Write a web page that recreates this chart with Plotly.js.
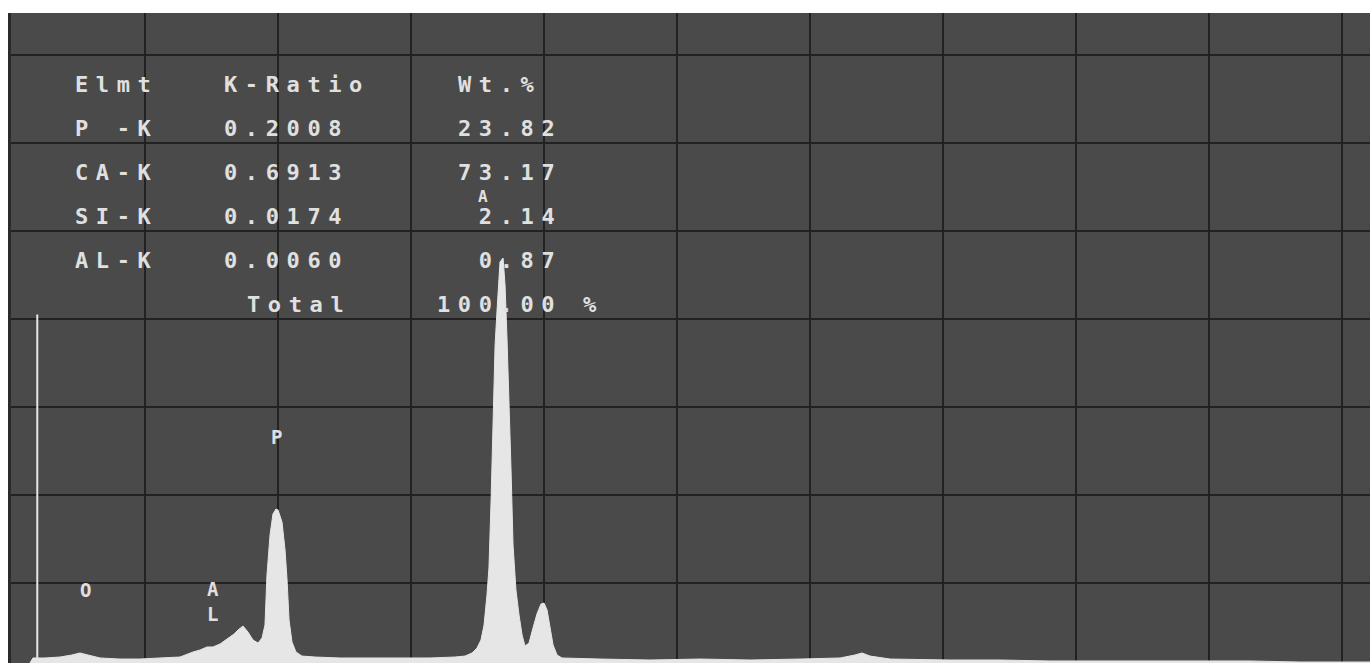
<!DOCTYPE html>
<html>
<head>
<meta charset="utf-8">
<script src="https://cdn.plot.ly/plotly-3.0.1.min.js"></script>
<style>
  html, body { margin: 0; padding: 0; background: #ffffff; }
  #chart { width: 1370px; height: 663px; }
  .annotation-text { letter-spacing: 7.6px; }
</style>
</head>
<body>
<div id="chart"></div>
<script>
// ---- EDS spectrum (energy in keV, intensity in screen divisions) ----
const energy = [0.135, 0.158, 0.248, 0.361, 0.451, 0.511, 0.571, 0.662, 0.812, 0.962,
  1.113, 1.263, 1.361, 1.414, 1.466, 1.511, 1.564, 1.624, 1.669, 1.699,
  1.737, 1.774, 1.812, 1.850, 1.880, 1.902, 1.917, 1.940, 1.962, 1.985,
  2.000, 2.030, 2.053, 2.068, 2.083, 2.105, 2.135, 2.180, 2.278, 2.466,
  2.692, 2.917, 3.143, 3.331, 3.406, 3.459, 3.496, 3.526, 3.549, 3.571,
  3.586, 3.602, 3.617, 3.632, 3.647, 3.669, 3.692, 3.707, 3.722, 3.737,
  3.752, 3.767, 3.789, 3.812, 3.835, 3.857, 3.887, 3.917, 3.947, 3.977,
  4.000, 4.023, 4.045, 4.068, 4.098, 4.135, 4.421, 4.797, 5.173, 5.549,
  5.925, 6.226, 6.338, 6.391, 6.451, 6.602, 7.053, 7.429, 7.805, 8.180,
  8.556, 8.932, 9.308, 9.684, 10.211];
const counts = [0.091, 0.148, 0.148, 0.159, 0.182, 0.205, 0.182, 0.148, 0.136, 0.136,
  0.148, 0.159, 0.216, 0.239, 0.273, 0.273, 0.307, 0.375, 0.420, 0.466,
  0.511, 0.443, 0.352, 0.318, 0.375, 0.523, 1.091, 1.545, 1.784, 1.841,
  1.830, 1.693, 1.375, 1.034, 0.580, 0.330, 0.216, 0.170, 0.159, 0.148,
  0.148, 0.148, 0.148, 0.159, 0.170, 0.205, 0.261, 0.352, 0.523, 0.864,
  1.170, 1.943, 2.852, 3.705, 4.102, 4.648, 4.693, 4.386, 3.761, 3.080,
  2.284, 1.432, 0.920, 0.636, 0.409, 0.284, 0.318, 0.489, 0.648, 0.761,
  0.773, 0.693, 0.489, 0.295, 0.182, 0.148, 0.136, 0.125, 0.136, 0.125,
  0.136, 0.148, 0.182, 0.205, 0.170, 0.136, 0.125, 0.125, 0.114, 0.114,
  0.114, 0.114, 0.114, 0.102, 0.102];

// cursor marker
const cursorEnergy = 0.19;
const cursorHeight = 4.05;

// ---- quantification table ----
const tableHeader = ['Elmt', 'K-Ratio', 'Wt.%'];
const elements = ['P -K', 'CA-K', 'SI-K', 'AL-K'];
const kRatios = ['0.2008', '0.6913', '0.0174', '0.0060'];
const wtPct = ['23.82', '73.17', '2.14', '0.87'];
const totalLabel = 'Total';
const totalValue = '100.00 %';

// ---- peak labels ----
const peakLabels = ['O', 'A<br>L', 'P', 'A'];
const peakLabelE = [0.549, 1.511, 1.992, 3.541];
const peakLabelY = [0.92, 0.79, 2.66, 5.39];
const peakLabelSize = [19, 19, 19, 16];

// ---- layout helpers ----
const fontFamily = 'DejaVu Sans Mono, Liberation Mono, monospace';
const txtFont = { family: fontFamily, size: 22, color: '#e0e0e0', weight: 'bold' };
const colX = [0.459, 1.579, 3.338];
const rowY = [6.67, 6.17, 5.67, 5.17, 4.67, 4.17];

function cell(x, y, text) {
  return { x: x, y: y, xref: 'x', yref: 'y', text: text, showarrow: false,
           xanchor: 'left', yanchor: 'middle', font: txtFont };
}

const annotations = [];
tableHeader.forEach((h, i) => annotations.push(cell(colX[i], rowY[0], h)));
elements.forEach((el, i) => {
  annotations.push(cell(colX[0], rowY[i + 1], el));
  annotations.push(cell(colX[1], rowY[i + 1], kRatios[i]));
  const w = wtPct[i].length < 5 ? '\u00a0' + wtPct[i] : wtPct[i];
  annotations.push(cell(colX[2], rowY[i + 1], w));
});
annotations.push(cell(1.752, rowY[5], totalLabel));
annotations.push(cell(3.180, rowY[5], totalValue));
peakLabels.forEach((p, i) => {
  annotations.push({ x: peakLabelE[i], y: peakLabelY[i], xref: 'x', yref: 'y', text: p,
    showarrow: false, xanchor: 'center', yanchor: 'middle', xshift: 4,
    font: { family: fontFamily, size: peakLabelSize[i], color: '#e0e0e0', weight: 'bold' } });
});

const traces = [
  { x: energy, y: counts, type: 'scatter', mode: 'lines', fill: 'tozeroy',
    fillcolor: '#e6e6e6', line: { color: '#e6e6e6', width: 1 }, hoverinfo: 'skip' },
  { x: [cursorEnergy, cursorEnergy], y: [0, cursorHeight], type: 'scatter', mode: 'lines',
    line: { color: '#e6e6e6', width: 2 }, hoverinfo: 'skip' }
];

const layout = {
  width: 1370, height: 663,
  margin: { l: 11, r: 0, t: 13, b: 0, pad: 0 },
  paper_bgcolor: '#ffffff',
  plot_bgcolor: '#4a4a4a',
  showlegend: false,
  xaxis: { range: [-0.0075, 10.21], tick0: 0, dtick: 1, showgrid: true,
           gridcolor: '#222222', gridwidth: 2, zeroline: false,
           showticklabels: false, ticks: '', showline: false },
  yaxis: { range: [0.091, 7.477], tick0: 0, dtick: 1, showgrid: true,
           gridcolor: '#222222', gridwidth: 2, zeroline: false,
           showticklabels: false, ticks: '', showline: true, linecolor: '#2a2a2a', linewidth: 3 },
  annotations: annotations
};

Plotly.newPlot('chart', traces, layout, { staticPlot: true, displayModeBar: false });
</script>
</body>
</html>
